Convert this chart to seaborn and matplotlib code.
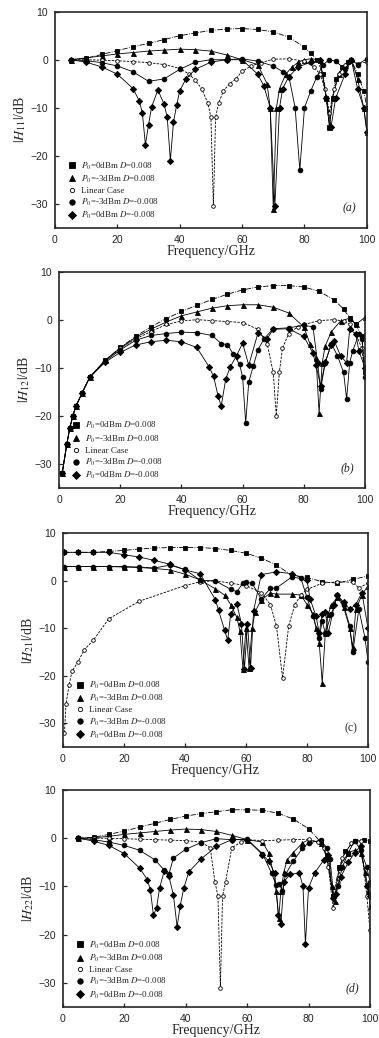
import matplotlib
matplotlib.use("Agg")
import matplotlib.pyplot as plt
from matplotlib.lines import Line2D
import seaborn as sns

# ---------------- panel (a)  |H11| ----------------
a_sq_f = [5, 10, 15, 20, 25, 30, 35, 40, 45, 50, 55, 60, 65, 70, 75, 80, 82, 84, 86, 87, 88, 89, 90, 92, 94, 95, 97, 99, 100]
a_sq_v = [0, 0.3, 1.1, 1.9, 2.7, 3.4, 4.2, 5, 5.6, 6.1, 6.4, 6.5, 6.3, 5.8, 4.7, 2.6, 1.3, 0, -3, -8, -14, -8, -4, -1.5, -0.5, 0, -3, -6.5, -10]
a_tri_f = [5, 10, 15, 20, 25, 30, 35, 40, 45, 50, 55, 60, 65, 68, 69, 70, 71, 72, 74, 76, 78, 80, 82, 85, 87, 88, 89, 91, 93, 95, 97, 99, 100]
a_tri_v = [0, 0.4, 0.8, 1.2, 1.5, 1.8, 2, 2.2, 2.1, 1.8, 1, 0, -1, -5, -10, -31, -10, -6, -3, -1.5, -0.5, 0, 0.2, 0, -8, -14, -8, -3, -1, 0.2, -4, -10, -15]
a_lin_f = [5, 10, 15, 20, 25, 30, 35, 40, 43, 45, 47, 49, 50, 50.8, 51.5, 52.5, 54, 56, 58, 60, 63, 66, 70, 75, 80, 83, 85, 86.5, 88, 89.5, 91, 93, 95, 97, 100]
a_lin_v = [0, 0, -0.1, -0.2, -0.4, -0.6, -1, -1.8, -3, -4.3, -6, -9, -12, -30.5, -12, -9, -6.5, -5, -4, -2.4, -1.3, -0.6, 0.1, 0.2, -0.3, -1.5, -3, -6, -11, -6, -3, -1, 0, -0.8, -0.5]
a_cir_f = [5, 10, 15, 20, 25, 30, 35, 40, 45, 50, 55, 60, 65, 70, 73, 75, 77, 78.5, 80, 82, 84, 86, 88, 90, 93, 95, 97, 100]
a_cir_v = [0, -0.2, -0.6, -1.3, -2.5, -4.5, -4, -2, -0.5, 0, 0, 0.2, -0.3, -1.3, -2.5, -3.5, -10, -23, -10, -6.5, -3.5, -1, 0, -0.3, -2, 0, -1, 0.2]
a_dia_f = [5, 10, 15, 20, 25, 27, 28, 29, 30, 31, 33, 35, 36, 37, 38, 39, 40, 42, 45, 50, 55, 60, 65, 67, 69, 70.5, 72, 73, 75, 78, 82, 85, 87, 88.5, 90, 93, 95, 97, 99, 100]
a_dia_v = [0, -0.5, -1.5, -3, -6, -8.5, -11, -17.7, -13.5, -9.8, -6.3, -9.3, -12, -21, -13, -9.5, -6.5, -4, -2, -0.5, 0, 0, -3, -5.5, -10, -30.5, -10, -6, -3.5, -1.5, -0.5, 0, -8, -14, -8, -3, 0, -6, -10, -15]

# ---------------- panel (b)  |H12| ----------------
b_sq_f = [1, 2.5, 3.5, 4.5, 5.5, 7.5, 10, 15, 20, 25, 30, 35, 40, 45, 50, 55, 60, 65, 70, 75, 80, 85, 90, 93, 95, 97, 99, 100]
b_sq_v = [-32, -26, -22.5, -20, -18, -15.3, -12, -8.5, -5.8, -3.5, -1.5, 0.2, 1.7, 3, 4.2, 5.3, 6.2, 6.8, 7.1, 7.1, 6.8, 5.9, 4.1, 2.2, 0.4, -1, -3.5, -11]
b_tri_f = [1, 2.5, 3.5, 4.5, 5.5, 7.5, 10, 15, 20, 25, 30, 35, 40, 45, 50, 55, 60, 65, 70, 75, 80, 82, 84, 85, 86, 87, 89, 92, 95, 97, 100]
b_tri_v = [-32, -26, -22.5, -20, -18, -15.3, -12, -8.5, -5.9, -3.7, -2, -0.5, 0.8, 1.6, 2.4, 2.9, 3.1, 3.1, 2.6, 1.4, -1.5, -5, -8, -19.5, -9, -5.5, -2.5, -0.3, 0.3, -1, 0.5]
b_lin_f = [1, 2.5, 3.5, 4.5, 5.5, 7.5, 10, 15, 20, 25, 30, 35, 40, 45, 50, 55, 60, 65, 68, 70, 71, 72, 73, 75, 78, 80, 85, 90, 93, 95, 97, 99, 100]
b_lin_v = [-32, -26, -22.5, -20, -18, -15.3, -12, -8.5, -6, -4, -2.5, -1, -0.3, 0, -0.2, -0.4, -0.6, -2, -5, -11, -20, -11, -6, -3, -1.5, -1, -0.2, 0, -0.3, -1, -3, -6, -12]
b_cir_f = [1, 2.5, 3.5, 4.5, 5.5, 7.5, 10, 15, 20, 25, 30, 35, 40, 45, 50, 53, 55, 57, 59, 60, 61, 62, 63.5, 65, 67, 70, 75, 80, 83, 84.5, 85.5, 87, 89, 91, 93, 94, 95, 96, 98, 99, 100]
b_cir_v = [-32, -26, -22.5, -20, -18, -15.3, -12, -8.7, -6.3, -4.3, -3.3, -2.9, -2.6, -2.7, -3.3, -5, -5.2, -7.2, -9.3, -12, -21.5, -13, -9.6, -6.3, -4, -1.9, -1.7, -1.2, -1.5, -9, -14.5, -9, -5, -7.5, -11, -16.5, -9, -6.5, -3, -4, -12]
b_dia_f = [1, 2.5, 3.5, 4.5, 5.5, 7.5, 10, 15, 20, 25, 30, 35, 40, 45, 49, 50.5, 52, 53, 54.5, 56, 58, 60, 62, 65, 68, 70, 75, 80, 83, 84, 85.5, 87, 89, 90, 92, 94, 95, 97, 98, 100]
b_dia_v = [-32, -26, -22.5, -20, -18, -15.3, -12, -8.9, -6.8, -5.3, -4.6, -4.3, -4.6, -5.8, -9.8, -11.8, -16, -18, -12.3, -9.8, -7.5, -4.9, -9.5, -2.8, -4, -2, -1.9, -3.5, -7, -9.5, -13.8, -8.8, -5.2, -4.5, -7.5, -9, -2, -3, -6.5, -10]

# ---------------- panel (c)  |H21| ----------------
c_sq_f = [0.5, 5, 10, 15, 20, 25, 30, 35, 40, 45, 50, 55, 60, 65, 70, 75, 80, 85, 90, 95, 100]
c_sq_v = [6, 6, 6, 6.2, 6.4, 6.7, 6.9, 7, 7, 7, 6.8, 6.4, 5.8, 4.8, 3.3, 1.2, 0.7, -0.2, -0.5, 0.3, 1]
c_tri_f = [0.5, 5, 10, 15, 20, 25, 30, 35, 40, 45, 50, 53, 55, 57, 58, 59, 60, 61, 62, 63, 65, 68, 70, 75, 78, 80, 82, 83, 84, 85, 86, 87, 88, 90, 92, 94, 95, 96, 98, 100]
c_tri_v = [3, 3, 3, 3, 2.9, 2.8, 2.6, 2.3, 1.4, 0.2, -1.7, -3, -5, -7.7, -10.5, -18.5, -10, -18.3, -10, -6.5, -4, -2.6, -2.8, -2.8, -3, -5, -7, -10, -13, -21.5, -11, -7, -5, -3.5, -5.5, -10, -14, -6, -3, -1]
c_lin_f = [0.5, 1, 2, 3, 5, 7, 10, 15, 25, 40, 45, 50, 55, 60, 65, 68, 70, 72, 74, 76, 78, 80, 85, 90, 95, 97, 100]
c_lin_v = [-32, -26, -22, -19, -17, -14.5, -12.5, -8, -4.3, -1, -0.2, 0, -0.5, -1, -2.5, -5, -9.5, -20.5, -9.5, -5, -3, -1.8, -0.5, -0.2, -0.3, -1.5, -0.5]
c_cir_f = [0.5, 5, 10, 15, 20, 25, 30, 35, 40, 45, 50, 55, 57, 59, 60, 62, 65, 68, 70, 75, 78, 80, 82, 84, 85, 86, 88, 90, 92, 94, 95, 97, 99, 100]
c_cir_v = [3, 3, 3, 3, 3, 2.9, 2.7, 3.3, 2.4, 0.1, 0, -1.8, -2.3, -0.5, -0.3, -0.5, -3.8, -1.6, -1.5, 0.8, 0.5, -3.5, -7.5, -12, -8.5, -11, -7, -3, -5, -9.5, -15, -6, -12, -17]
c_dia_f = [0.5, 5, 10, 15, 20, 25, 30, 35, 40, 45, 50, 51, 53, 54, 55, 57, 58.5, 59.5, 60.5, 61.5, 62.5, 65, 70, 75, 80, 81, 83, 84, 85, 86, 87, 89, 90, 92, 94, 96, 98, 100]
c_dia_v = [6, 6, 6, 6, 5.5, 5, 4.3, 3.5, 2.3, 1.5, -4, -6.2, -10.4, -12.5, -7, -4.8, -9, -18.6, -9, -18.3, -6.3, 1.3, 1.9, 1.5, 0.2, -3.8, -7.5, -11, -7, -6.5, -11, -5, -3, -4.5, -6, -5, -2.5, -10]

# ---------------- panel (d)  |H22| ----------------
d_sq_f = [5, 10, 15, 20, 25, 30, 35, 40, 45, 50, 55, 60, 65, 70, 75, 80, 84, 86, 88, 90, 92, 95, 98, 100]
d_sq_v = [0, 0.2, 0.8, 1.5, 2.3, 3.1, 3.9, 4.6, 5.1, 5.5, 5.9, 5.9, 5.8, 5.2, 4, 2, -0.8, -3.5, -12, -6, -2.7, -0.5, -0.3, -0.5]
d_tri_f = [5, 10, 15, 20, 25, 30, 35, 40, 45, 50, 55, 60, 65, 67, 68.5, 69.5, 70.3, 71, 72, 73, 75, 78, 80, 84, 86, 87.5, 88.5, 90, 93, 95, 97, 98.5, 99.5, 100]
d_tri_v = [0, 0.1, 0.4, 0.8, 1.1, 1.4, 1.7, 1.9, 1.8, 1.4, 0.6, -0.3, -0.8, -3, -7, -11, -16.5, -11, -7, -4.5, -3, -1, -0.3, -1, -4, -10, -13, -6, -3, -2.5, -3, -7, -11, -14]
d_lin_f = [5, 10, 15, 20, 25, 30, 35, 40, 45, 48, 49.5, 50.5, 51.3, 52, 53, 55, 58, 60, 65, 70, 75, 80, 83, 85, 86.5, 88, 89.5, 91, 94, 97, 99, 100]
d_lin_v = [0, 0, 0, -0.1, -0.2, -0.3, -0.4, -0.5, -0.8, -2, -9, -12, -31, -12, -9, -2, -0.8, -0.3, -0.5, -0.4, -0.3, -0.2, -0.8, -2, -6, -14.5, -9, -4, -1, -0.5, -12, -19]
d_cir_f = [5, 10, 15, 20, 25, 30, 33, 34.5, 36, 40, 45, 50, 55, 60, 65, 68, 69.5, 70.5, 71.5, 72.5, 75, 78, 80, 84, 86, 87, 88.2, 89.5, 91, 93, 95, 97, 99, 100]
d_cir_v = [0, -0.3, -0.8, -1.5, -2.5, -4.5, -6.6, -7.5, -4.1, -2.3, -0.9, -0.1, -0.3, -0.2, -3.2, -7.3, -9.8, -9.5, -11, -7.5, -4.8, -2.1, -1, -0.4, -2, -4.3, -12, -10, -6, -3, -0.5, -2.5, -6, -9]
d_dia_f = [5, 10, 15, 20, 25, 27.5, 28.5, 29.5, 30.5, 31.5, 33, 34.5, 36, 37.2, 38.2, 39.4, 41, 45, 50, 55, 60, 65, 67, 69, 70.2, 71, 72, 74, 77, 78.2, 79, 80, 82, 85, 86.5, 88, 89, 90.5, 93, 95, 97, 99, 100]
d_dia_v = [0, -0.6, -1.5, -3.2, -6.2, -8.6, -10.8, -16, -14.5, -10.3, -6.8, -7.8, -11.8, -18.4, -14, -10.3, -7, -4.3, -1.7, -0.3, -0.3, -3.4, -4.7, -7.3, -16, -17.8, -9, -7.5, -7.2, -10, -22, -10.3, -7.2, -4.5, -3.5, -12.5, -11.5, -8, -5, -3, -1.6, -10, -12]

sns.set_style("ticks")
plt.rcParams["font.family"] = ["Liberation Sans", "DejaVu Sans"]
plt.rcParams["mathtext.fontset"] = "stix"

fig = plt.figure(figsize=(3.79, 10.38), dpi=100)
positions = [
    [0.145, 0.7806, 0.823, 0.2081],
    [0.156, 0.5302, 0.807, 0.2081],
    [0.166, 0.2803, 0.805, 0.2059],
    [0.166, 0.0299, 0.810, 0.2090],
]

panels = [
    ("11", "(a)", "italic", [(a_sq_f, a_sq_v), (a_tri_f, a_tri_v), (a_lin_f, a_lin_v), (a_cir_f, a_cir_v), (a_dia_f, a_dia_v)]),
    ("12", "(b)", "italic", [(b_sq_f, b_sq_v), (b_tri_f, b_tri_v), (b_lin_f, b_lin_v), (b_cir_f, b_cir_v), (b_dia_f, b_dia_v)]),
    ("21", "(c)", "normal", [(c_sq_f, c_sq_v), (c_tri_f, c_tri_v), (c_lin_f, c_lin_v), (c_cir_f, c_cir_v), (c_dia_f, c_dia_v)]),
    ("22", "(d)", "italic", [(d_sq_f, d_sq_v), (d_tri_f, d_tri_v), (d_lin_f, d_lin_v), (d_cir_f, d_cir_v), (d_dia_f, d_dia_v)]),
]

markers = ["s", "^", "o", "o", "D"]
msizes = [3.2, 3.6, 2.6, 3.4, 3.2]
faces = ["k", "k", "white", "k", "k"]
lstyles = ["-.", "-", (0, (3, 1.5)), "-", "-"]
labels = [
    r"$P_0$=0dBm $D$=0.008",
    r"$P_0$=-3dBm $D$=0.008",
    "Linear Case",
    r"$P_0$=-3dBm $D$=-0.008",
    r"$P_0$=0dBm $D$=-0.008",
]

for pos, (sub, tag, tagstyle, series) in zip(positions, panels):
    ax = fig.add_axes(pos)
    for (f, v), m, ms, fc, ls in zip(series, markers, msizes, faces, lstyles):
        sns.lineplot(x=f, y=v, ax=ax, color="k", lw=0.6, linestyle=ls, marker=m,
                     markersize=ms, markerfacecolor=fc, markeredgecolor="k",
                     markeredgewidth=0.6, sort=False, estimator=None)
    ax.set_xlim(0, 100)
    ax.set_ylim(-35, 10)
    ax.set_xticks([0, 20, 40, 60, 80, 100])
    ax.set_yticks([10, 0, -10, -20, -30])
    ax.tick_params(direction="in", length=3, width=0.9, labelsize=7.5, pad=5)
    for s in ax.spines.values():
        s.set_linewidth(1.2)
    ax.set_xlabel("Frequency/GHz", family="Liberation Serif", fontsize=10, labelpad=0)
    ax.set_ylabel(r"$|H_{%s}|$/dB" % sub, family="Liberation Serif", fontsize=10, labelpad=2)
    ax.text(0.965, 0.06, tag, transform=ax.transAxes, ha="right", va="bottom",
            fontsize=8.5, family="Liberation Serif", style=tagstyle)
    handles = [Line2D([], [], linestyle="None", marker=m, markersize=ms + 0.5,
                      markerfacecolor=fc, markeredgecolor="k", markeredgewidth=0.6, color="k")
               for m, ms, fc in zip(markers, msizes, faces)]
    ax.legend(handles, labels, loc="lower left", bbox_to_anchor=(0.02, 0.0),
              frameon=False, handlelength=1.0, handletextpad=0.5,
              labelspacing=0.22, borderaxespad=0.3,
              prop={"family": "Liberation Serif", "size": 6.5})

fig.savefig("out.png", dpi=100)
